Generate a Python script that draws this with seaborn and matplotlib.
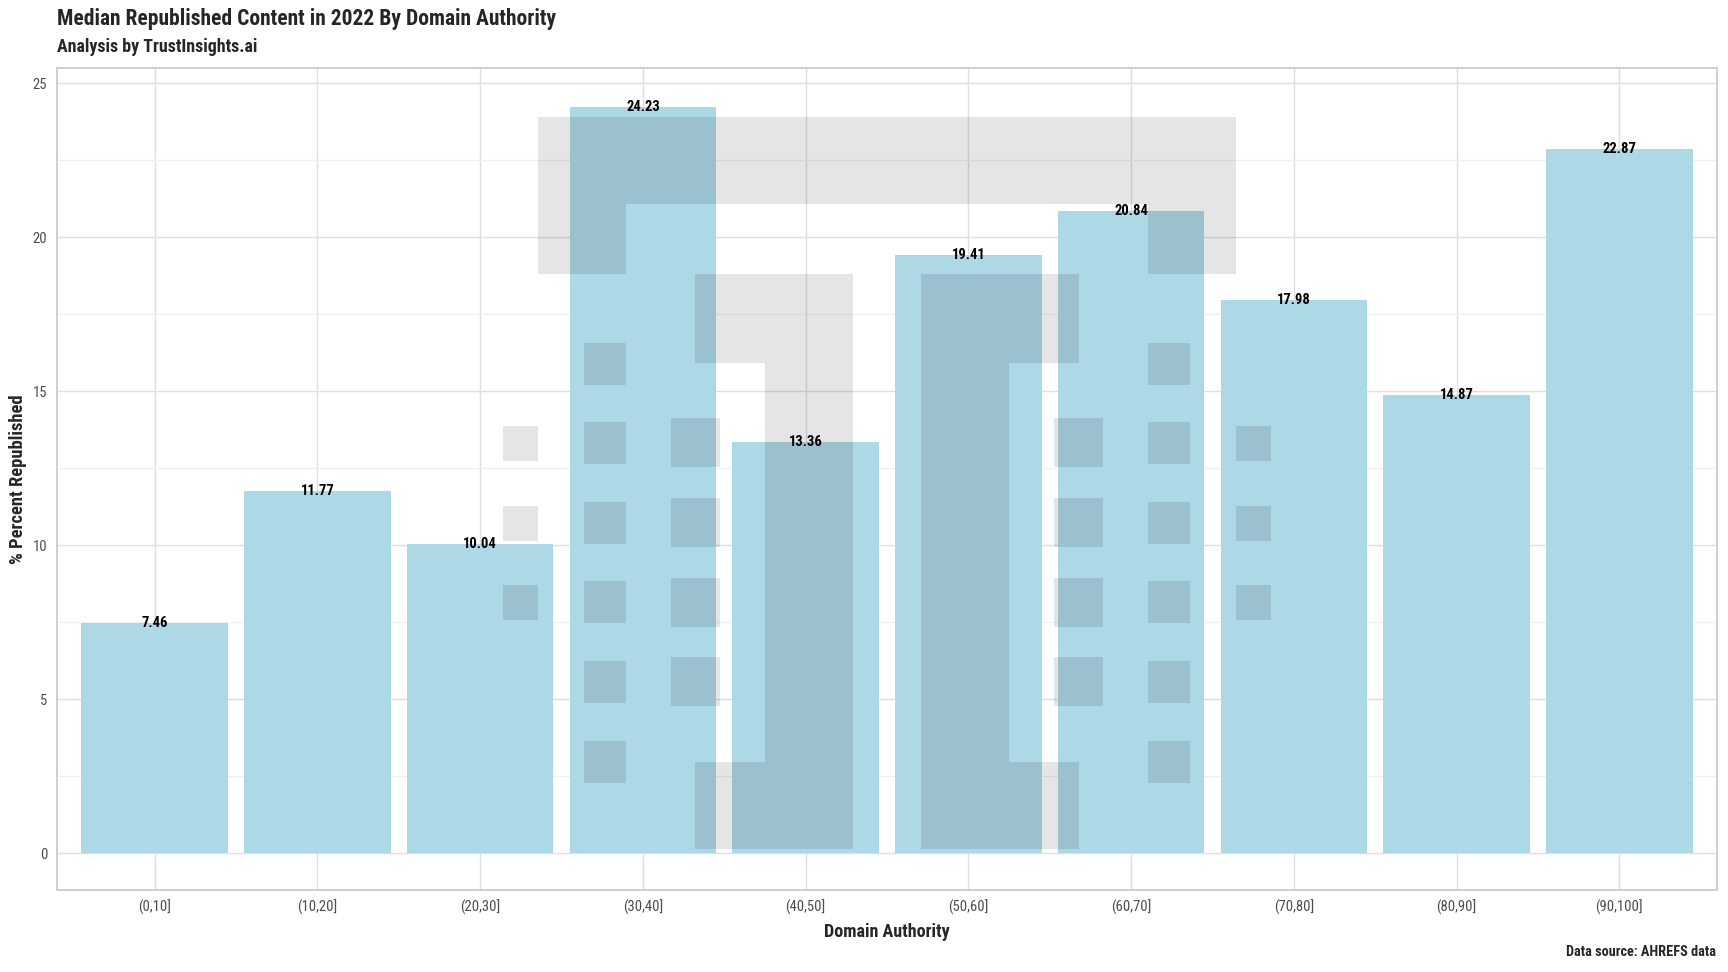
import matplotlib
matplotlib.use('Agg')
import matplotlib.pyplot as plt
import seaborn as sns
import pandas as pd
from matplotlib.patches import Rectangle
from matplotlib.ticker import MultipleLocator

# Data
domain_bins = ['(0,10]', '(10,20]', '(20,30]', '(30,40]', '(40,50]',
               '(50,60]', '(60,70]', '(70,80]', '(80,90]', '(90,100]']
median_republished = [7.46, 11.77, 10.04, 24.23, 13.36, 19.41, 20.84, 17.98, 14.87, 22.87]

df = pd.DataFrame({'bin': domain_bins, 'pct': median_republished})

sns.set_theme(style='whitegrid')
plt.rcParams['font.family'] = ['Roboto Condensed', 'Roboto', 'DejaVu Sans']

W, H = 1728, 972
fig = plt.figure(figsize=(W / 100, H / 100), dpi=100)
ax = fig.add_axes([57 / W, 1 - 890 / H, (1717 - 57) / W, (890 - 68) / H])

sns.barplot(data=df, x='bin', y='pct', color='#add8e6', saturation=1, width=0.9,
            edgecolor='none', ax=ax)

# value labels centred on the bar tops
for i, v in enumerate(median_republished):
    ax.text(i, v, f'{v:.2f}', ha='center', va='center', fontsize=10.5,
            fontweight='bold', color='black')

ax.set_xlim(-0.6, 9.6)
ax.set_ylim(-1.2, 25.5)
ax.yaxis.set_major_locator(MultipleLocator(5))
ax.yaxis.set_minor_locator(MultipleLocator(2.5))
ax.set_axisbelow(True)
ax.grid(which='major', color='#e0e0e0', linewidth=1.0)
ax.grid(which='minor', axis='y', color='#f0f0f0', linewidth=0.9)
ax.grid(which='minor', axis='x', visible=False)
for s in ax.spines.values():
    s.set_visible(True)
    s.set_color('#cccccc')
    s.set_linewidth(1.3)
ax.tick_params(axis='both', which='major', length=3, width=0.8, color='#cccccc',
               labelsize=10.5, labelcolor='#4d4d4d', pad=4)
ax.tick_params(which='minor', length=0)
ax.set_xlabel('Domain Authority', fontsize=13, fontweight='bold', labelpad=6)
ax.set_ylabel('% Percent Republished', fontsize=13.3, fontweight='bold')
ax.yaxis.set_label_coords(-0.018, 0.5)

fig.text(57 / W, 1 - 19 / H, 'Median Republished Content in 2022 By Domain Authority',
         fontsize=15.5, fontweight='bold', ha='left', va='center')
fig.text(57 / W, 1 - 47 / H, 'Analysis by TrustInsights.ai',
         fontsize=12.9, fontweight='bold', ha='left', va='center')
fig.text(1716 / W, 1 - 952 / H, 'Data source: AHREFS data',
         fontsize=10.3, fontweight='bold', ha='right', va='center')

# faint logo watermark, pixel boxes (x0, x1, y0, y1) from the top-left
centre = 887
left_half = [(538, 626, 204, 274),
             (695, 853, 274, 363), (765, 853, 363, 762), (695, 853, 762, 849)]
for y0 in [343, 422, 502, 581, 661, 741]:
    left_half.append((584, 626, y0, y0 + 42))
for y0 in [418, 498, 578, 657]:
    left_half.append((671, 720, y0, y0 + 49))
for y0 in [426, 506, 585]:
    left_half.append((503, 538, y0, y0 + 35))
boxes = [(538, 1236, 117, 204)]
for x0, x1, y0, y1 in left_half:
    boxes.append((x0, x1, y0, y1))
    boxes.append((2 * centre - x1, 2 * centre - x0, y0, y1))
for x0, x1, y0, y1 in boxes:
    fig.add_artist(Rectangle((x0 / W, 1 - y1 / H), (x1 - x0) / W, (y1 - y0) / H,
                             transform=fig.transFigure, facecolor='black',
                             alpha=0.1, edgecolor='none', zorder=10))

fig.savefig('out.png', dpi=100)
